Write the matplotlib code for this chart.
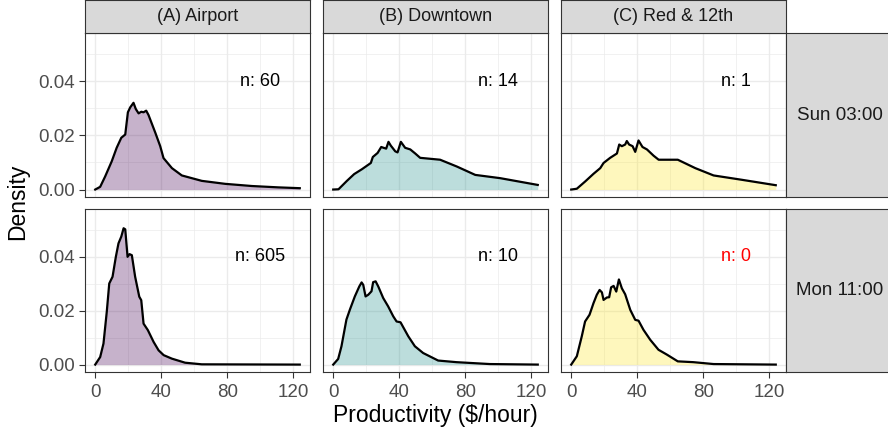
import matplotlib
matplotlib.use('Agg')
import matplotlib.pyplot as plt

plt.rcParams['font.family'] = ['Liberation Sans', 'DejaVu Sans']

# facet labels and sample counts
locations = ['(A) Airport', '(B) Downtown', '(C) Red & 12th']
times = ['Sun 03:00', 'Mon 11:00']
counts = [[60, 14, 1], [605, 10, 0]]
fills = ['#440154', '#21908C', '#FDE725']

# density curves (productivity, density)
airport_sun_x = [0, 3, 6, 10, 13, 15.8, 18.2, 19.8, 21.2, 23.2, 24.6, 26.3, 27.9, 29.3, 30.9, 32.3,
                 36.4, 39.4, 41.4, 46.5, 52.5, 64.6, 78.8, 95, 111, 124]
airport_sun_y = [0, 0.001, 0.0048, 0.0104, 0.0154, 0.0191, 0.0203, 0.0285, 0.0303, 0.0320, 0.0297,
                 0.0281, 0.0287, 0.0285, 0.0291, 0.0275, 0.0210, 0.0160, 0.0116, 0.0079, 0.0052,
                 0.0032, 0.0021, 0.0013, 0.0008, 0.0005]

downtown_sun_x = [0, 3.2, 8.3, 12.7, 17.4, 22.8, 24.0, 26.9, 29.1, 30.5, 32.1, 33.5, 34.9, 37.6, 39.0,
                  41.0, 43.6, 46.7, 49.7, 52.7, 64.8, 74.9, 86.1, 101.2, 124]
downtown_sun_y = [0, 0.0001, 0.0032, 0.0057, 0.0075, 0.0098, 0.0120, 0.0135, 0.0157, 0.0154, 0.0151,
                  0.0176, 0.0162, 0.0141, 0.0137, 0.0176, 0.0154, 0.0148, 0.0133, 0.0117, 0.0110,
                  0.0085, 0.0054, 0.0042, 0.0017]

red12_sun_x = [0, 3.4, 8.5, 13.5, 17.6, 19.6, 23.6, 27.7, 29.1, 30.7, 32.7, 33.7, 35.1, 37.2, 38.8,
               40.8, 43.2, 45.9, 49.9, 53.0, 64.6, 75.2, 86.3, 103.4, 124]
red12_sun_y = [0, 0.0003, 0.0030, 0.0058, 0.0079, 0.0098, 0.0117, 0.0133, 0.0166, 0.0160, 0.0166,
               0.0179, 0.0166, 0.0160, 0.0139, 0.0181, 0.0157, 0.0148, 0.0125, 0.0110, 0.0110,
               0.0079, 0.0052, 0.0036, 0.0016]

airport_mon_x = [0, 3, 5, 7, 8.5, 10.5, 12.5, 14.1, 15.8, 17.2, 18.2, 19.6, 20.8, 22.2, 24.2, 26.7,
                 27.9, 29.3, 31.9, 35.4, 38.4, 41.5, 46.5, 54.5, 64.6, 124]
airport_mon_y = [0, 0.0028, 0.0078, 0.0196, 0.0301, 0.0326, 0.0400, 0.0450, 0.0475, 0.0506, 0.0502,
                 0.0400, 0.0410, 0.0406, 0.0326, 0.0252, 0.0239, 0.0152, 0.0128, 0.0084, 0.0053,
                 0.0035, 0.0022, 0.0007, 0.0001, 0]

downtown_mon_x = [0, 3, 5, 8, 10.1, 13.1, 15.8, 17.2, 18.2, 19.6, 21.2, 23.2, 24.2, 25.7, 27.3, 30.3,
                  33.3, 36.4, 38.4, 40.8, 45.5, 49.5, 54.5, 63.6, 74.7, 94.9, 124]
downtown_mon_y = [0, 0.0021, 0.0068, 0.0167, 0.0204, 0.0253, 0.0290, 0.0305, 0.0296, 0.0253, 0.0259,
                  0.0272, 0.0306, 0.0309, 0.0290, 0.0247, 0.0216, 0.0179, 0.0160, 0.0157, 0.0105,
                  0.0068, 0.0043, 0.0015, 0.0009, 0.0002, 0]

red12_mon_x = [0, 3.4, 6.4, 8.4, 11.1, 13.5, 15.5, 17.2, 18.6, 19.6, 21.6, 23.0, 24.2, 25.7, 27.3,
               28.9, 30.7, 32.7, 35.8, 38.8, 40.8, 43.8, 47.9, 52.9, 58, 64.6, 74, 86.3, 124]
red12_mon_y = [0, 0.0031, 0.0105, 0.0160, 0.0185, 0.0228, 0.0259, 0.0277, 0.0268, 0.0240, 0.0249,
               0.0250, 0.0287, 0.0292, 0.0271, 0.0316, 0.0283, 0.0261, 0.0203, 0.0166, 0.0163,
               0.0129, 0.0092, 0.0055, 0.0037, 0.0012, 0.0009, 0.0002, 0]

curves = [[(airport_sun_x, airport_sun_y), (downtown_sun_x, downtown_sun_y), (red12_sun_x, red12_sun_y)],
          [(airport_mon_x, airport_mon_y), (downtown_mon_x, downtown_mon_y), (red12_mon_x, red12_mon_y)]]

W, H = 888, 434
fig = plt.figure(figsize=(W / 100, H / 100), dpi=100)


def box(x0, y0, x1, y1):
    return [x0 / W, 1 - y1 / H, (x1 - x0) / W, (y1 - y0) / H]


col_px = [(85, 310), (323, 548), (561, 786)]
row_px = [(33, 197), (209, 372)]
dark = '#333333'

xmax = 124
ymax = 0.055

for r in range(2):
    for c in range(3):
        ax = fig.add_axes(box(col_px[c][0], row_px[r][0], col_px[c][1], row_px[r][1]))
        x, y = curves[r][c]
        ax.fill_between(x, y, 0, color=fills[c], alpha=0.3, lw=0)
        ax.plot(x, y, color='black', lw=1.6)
        n = counts[r][c]
        ax.text(100, 0.04, 'n: %d' % n, ha='center', va='center', fontsize=13,
                color='red' if n == 0 else 'black')
        ax.set_xlim(-0.05 * xmax, xmax * 1.05)
        ax.set_ylim(-0.05 * ymax, ymax * 1.05)
        ax.set_xticks([0, 40, 80, 120])
        ax.set_xticks([20, 60, 100], minor=True)
        ax.set_yticks([0, 0.02, 0.04])
        ax.set_yticks([0.01, 0.03, 0.05], minor=True)
        ax.set_xticklabels(['0', '40', '80', '120'])
        ax.set_yticklabels(['0.00', '0.02', '0.04'])
        ax.set_axisbelow(True)
        ax.grid(which='major', color='#EBEBEB', lw=1.0)
        ax.grid(which='minor', color='#EBEBEB', lw=0.5)
        ax.tick_params(which='minor', length=0)
        ax.tick_params(which='major', length=4, width=0.8, color=dark,
                       labelsize=13.5, labelcolor='#4D4D4D')
        ax.tick_params(axis='x', pad=4.5)
        ax.tick_params(axis='y', pad=3)
        if r == 0:
            ax.tick_params(axis='x', length=0, labelbottom=False)
        if c > 0:
            ax.tick_params(axis='y', length=0, labelleft=False)
        for s in ax.spines.values():
            s.set_color(dark)
            s.set_linewidth(0.8)

# strips
for c in range(3):
    sa = fig.add_axes(box(col_px[c][0], 0, col_px[c][1], 33))
    sa.set_facecolor('#D9D9D9')
    sa.set_xticks([])
    sa.set_yticks([])
    for s in sa.spines.values():
        s.set_color(dark)
        s.set_linewidth(0.8)
    sa.text(0.5, 0.5, locations[c], ha='center', va='center', fontsize=13,
            color='#1A1A1A', transform=sa.transAxes)

for r in range(2):
    sa = fig.add_axes(box(786, row_px[r][0], 895, row_px[r][1]))
    sa.set_facecolor('#D9D9D9')
    sa.set_xticks([])
    sa.set_yticks([])
    for s in sa.spines.values():
        s.set_color(dark)
        s.set_linewidth(0.8)
    sa.text(54 / 109, 0.5, times[r], ha='center', va='center', fontsize=13.5,
            color='#1A1A1A', transform=sa.transAxes)

fig.text(18 / W, 1 - 202 / H, 'Density', rotation=90, ha='center', va='center', fontsize=16.5)
fig.text(435 / W, 1 - 422 / H, 'Productivity ($/hour)', ha='center', va='baseline', fontsize=16.5)

fig.savefig('out.png', dpi=100)
